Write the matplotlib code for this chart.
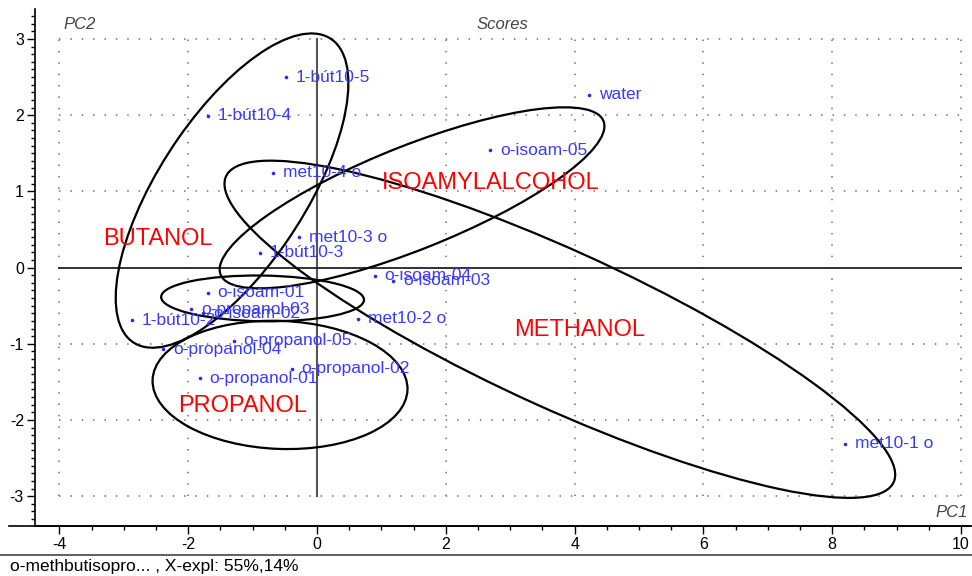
import matplotlib
matplotlib.use("Agg")
import matplotlib.pyplot as plt
from matplotlib.patches import Ellipse
from matplotlib.lines import Line2D
from matplotlib.ticker import MultipleLocator

plt.rcParams["font.family"] = ["Liberation Sans", "DejaVu Sans"]
plt.rcParams["axes.unicode_minus"] = False

# sample scores (PC1, PC2)
names = ["1-bút10-5", "1-bút10-4", "water", "o-isoam-05", "met10-4 o", "met10-3 o",
         "1-bút10-3", "o-isoam-04", "o-isoam-03", "o-isoam-01", "o-propanol-03",
         "o-isoam-02", "1-bút10-2", "met10-2 o", "o-propanol-05", "o-propanol-04",
         "o-propanol-02", "o-propanol-01", "met10-1 o"]
pc1 = [-0.48, -1.69, 4.22, 2.69, -0.68, -0.28, -0.885, 0.90, 1.18, -1.70, -1.95,
       -1.77, -2.87, 0.64, -1.29, -2.39, -0.39, -1.82, 8.20]
pc2 = [2.50, 1.99, 2.27, 1.54, 1.245, 0.40, 0.195, -0.11, -0.17, -0.33, -0.55,
       -0.60, -0.69, -0.67, -0.96, -1.07, -1.33, -1.45, -2.31]

# group labels
groups = ["BUTANOL", "ISOAMYLALCOHOL", "METHANOL", "PROPANOL"]
group_x = [-2.47, 2.69, 4.07, -1.16]
group_y = [0.38, 1.11, -0.82, -1.82]

# hand drawn group ellipses: centre, semi axes, angle (data units)
ell_cx = [-1.32, 1.475, 3.77, -0.846, -0.575]
ell_cy = [1.01, 0.915, -0.81, -0.405, -1.54]
ell_a = [2.52, 3.14, 5.56, 1.575, 1.98]
ell_b = [1.08, 0.69, 1.05, 0.30, 0.84]
ell_ang = [50.5, 18.4, -20.9, -0.7, -1.8]

fig = plt.figure(figsize=(9.72, 5.76), dpi=100)
ax = fig.add_axes([0.036, 0.087, 0.962, 0.897])
ax.set_xlim(-4.38, 10.14)
ax.set_ylim(-3.39, 3.39)

for s in ["top", "right"]:
    ax.spines[s].set_visible(False)
ax.spines["left"].set_linewidth(1.2)
ax.spines["bottom"].set_linewidth(1.2)

# dotted grid, only inside the tick range
for gx in [-4, -2, 2, 4, 6, 8, 10]:
    ax.plot([gx, gx], [-3, 3], color="#808080", lw=1.3, ls=(0, (0.8, 5.5)), zorder=1)
for gy in [3, 2, 1, -1, -2, -3]:
    ax.plot([-4, 10], [gy, gy], color="#808080", lw=1.3, ls=(0, (0.8, 5.5)), zorder=1)
ax.plot([0, 0], [-3, 3], color="#555555", lw=1.5, zorder=2)
ax.plot([-4, 10], [0, 0], color="#222222", lw=1.3, zorder=2)

ax.xaxis.set_major_locator(MultipleLocator(2))
ax.xaxis.set_minor_locator(MultipleLocator(0.5))
ax.yaxis.set_major_locator(MultipleLocator(1))
ax.yaxis.set_minor_locator(MultipleLocator(0.1))
ax.tick_params(which="major", length=6, width=1, labelsize=11.5, pad=2)
ax.tick_params(which="minor", length=3, width=1)

for cx, cy, a, b, ang in zip(ell_cx, ell_cy, ell_a, ell_b, ell_ang):
    ax.add_patch(Ellipse((cx, cy), 2 * a, 2 * b, angle=ang, fill=False,
                         edgecolor="black", lw=1.6, zorder=3))

ax.scatter(pc1, pc2, s=2.5, color="#2a2aff", zorder=4)
for n, x, y in zip(names, pc1, pc2):
    ax.annotate(n, (x, y), xytext=(7, 0), textcoords="offset points",
                va="center", ha="left", fontsize=12.5, color="#3a3aff", zorder=5)

for g, x, y in zip(groups, group_x, group_y):
    ax.text(x, y, g, ha="center", va="center", fontsize=17, color="red", zorder=5)

ax.text(0.03, 0.985, "PC2", transform=ax.transAxes, style="italic", fontsize=12,
        color="#444444", va="top", ha="left")
ax.text(0.5, 0.985, "Scores", transform=ax.transAxes, style="italic", fontsize=12,
        color="#444444", va="top", ha="center")
ax.text(0.998, 0.012, "PC1", transform=ax.transAxes, style="italic", fontsize=12,
        color="#444444", va="bottom", ha="right")

# extend axis line to the left and footer
fig.add_artist(Line2D([0.009, 1.0], [0.087, 0.087], color="black", lw=1.2))
fig.add_artist(Line2D([0.0, 1.0], [0.036, 0.036], color="#444444", lw=1.2))
fig.text(0.01, 0.016, "o-methbutisopro... , X-expl: 55%,14%", fontsize=12.5,
         va="center", ha="left")

fig.savefig("out.png", dpi=100)
